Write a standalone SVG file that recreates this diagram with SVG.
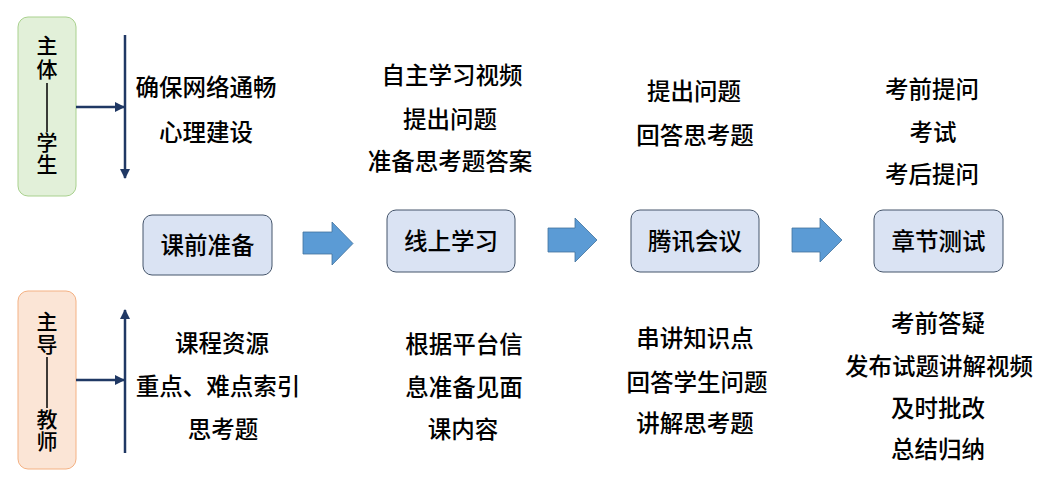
<svg xmlns="http://www.w3.org/2000/svg" width="1063" height="485" viewBox="0 0 1063 485">
<defs>
<style>
text{font-family:"Noto Sans CJK SC","Noto Sans",sans-serif;font-weight:500;fill:#000;text-anchor:middle;dominant-baseline:central}
.t{font-size:23.5px}
.side{font-size:21px;writing-mode:vertical-rl}
.box{fill:#DAE3F3;stroke:#44546A;stroke-width:1}
.conn{stroke:#203864;stroke-width:2.5;fill:none}
.blk{fill:#5B9BD5;stroke:#41719C;stroke-width:0.8}
</style>
<marker id="ah" viewBox="0 0 10 10" refX="9" refY="5" markerWidth="4" markerHeight="4" orient="auto-start-reverse" markerUnits="strokeWidth">
<path d="M0,0 L10,5 L0,10 Z" fill="#203864"/>
</marker>
</defs>
<rect width="1063" height="485" fill="#fff"/>

<g id="student">
<rect x="18" y="17" width="58" height="179" rx="10" fill="#E2F0D9" stroke="#A9D18E" stroke-width="1"/>
<text class="side" x="47" y="59" letter-spacing="3">主体</text>
<line x1="47" y1="83" x2="47" y2="132" stroke="#000" stroke-width="1.5"/>
<text class="side" x="47" y="154" letter-spacing="1">学生</text>
</g>

<g id="teacher">
<rect x="18" y="291" width="58" height="178" rx="10" fill="#FBE5D6" stroke="#F4B183" stroke-width="1"/>
<text class="side" x="47" y="334" letter-spacing="2">主导</text>
<line x1="47" y1="357" x2="47" y2="408" stroke="#000" stroke-width="1.5"/>
<text class="side" x="47" y="431" letter-spacing="1">教师</text>
</g>

<g id="connectors">
<line class="conn" x1="125" y1="35" x2="125" y2="178" marker-end="url(#ah)"/>
<line class="conn" x1="76" y1="107" x2="124" y2="107" marker-end="url(#ah)"/>
<line class="conn" x1="125" y1="453" x2="125" y2="310" marker-end="url(#ah)"/>
<line class="conn" x1="76" y1="380" x2="124" y2="380" marker-end="url(#ah)"/>
<path class="blk" d="M303,232 H332 V222 L353,243.5 L332,265 V254 H303 Z"/>
<path class="blk" d="M548,228 H575 V218 L597,240 L575,262 V252 H548 Z"/>
<path class="blk" d="M792,228 H820 V218 L842,240 L820,262 V252 H792 Z"/>
</g>

<g id="n1">
<rect class="box" x="143" y="215" width="129" height="60" rx="9"/>
<text class="t" x="207.5" y="244">课前准备</text>
</g>
<g id="n2">
<rect class="box" x="387" y="210" width="128" height="62" rx="9"/>
<text class="t" x="451" y="240">线上学习</text>
</g>
<g id="n3">
<rect class="box" x="631" y="210" width="128" height="62" rx="9"/>
<text class="t" x="695" y="240">腾讯会议</text>
</g>
<g id="n4">
<rect class="box" x="874" y="210" width="129" height="62" rx="9"/>
<text class="t" x="938.5" y="240">章节测试</text>
</g>

<g id="student-items">
<text class="t" x="206" y="86">确保网络通畅</text>
<text class="t" x="206" y="131">心理建设</text>
<text class="t" x="452" y="74">自主学习视频</text>
<text class="t" x="450" y="118">提出问题</text>
<text class="t" x="450" y="160">准备思考题答案</text>
<text class="t" x="694" y="90">提出问题</text>
<text class="t" x="695" y="134">回答思考题</text>
<text class="t" x="932" y="88">考前提问</text>
<text class="t" x="933" y="131">考试</text>
<text class="t" x="932" y="173">考后提问</text>
</g>

<g id="teacher-items">
<text class="t" x="222" y="342">课程资源</text>
<text class="t" x="218" y="385">重点、难点索引</text>
<text class="t" x="223" y="428">思考题</text>
<text class="t" x="464" y="343">根据平台信</text>
<text class="t" x="464" y="386">息准备见面</text>
<text class="t" x="463" y="428">课内容</text>
<text class="t" x="695" y="337">串讲知识点</text>
<text class="t" x="697" y="381">回答学生问题</text>
<text class="t" x="695" y="422">讲解思考题</text>
<text class="t" x="938" y="322">考前答疑</text>
<text class="t" x="939" y="365">发布试题讲解视频</text>
<text class="t" x="938" y="407">及时批改</text>
<text class="t" x="938" y="448">总结归纳</text>
</g>
</svg>
